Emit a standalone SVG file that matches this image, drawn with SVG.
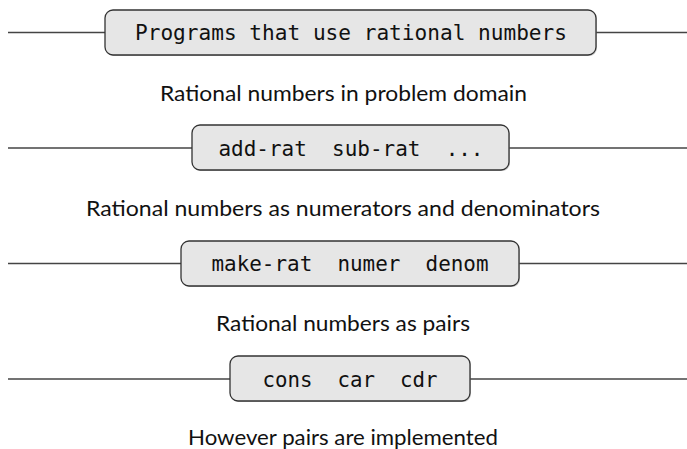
<svg xmlns="http://www.w3.org/2000/svg" width="687" height="449" viewBox="0 0 687 449">
<style>
.box{fill:#e6e6e6;stroke:#333;stroke-width:1.3}
.sh{fill:#999;opacity:0.5}
.code{font-family:"DejaVu Sans Mono","Liberation Mono",monospace;font-size:21px;fill:#111;text-anchor:middle;white-space:pre}
.lbl{font-family:"Lato","Liberation Sans",sans-serif;font-size:22px;fill:#111;text-anchor:middle}
.conn{stroke:#444;stroke-width:1.3;fill:none}
</style>
<rect width="687" height="449" fill="#fff"/>
<g id="connectors">
<line class="conn" x1="8" y1="32.5" x2="105" y2="32.5"/>
<line class="conn" x1="596" y1="32.5" x2="687" y2="32.5"/>
<line class="conn" x1="8" y1="148" x2="192" y2="148"/>
<line class="conn" x1="509" y1="148" x2="687" y2="148"/>
<line class="conn" x1="8" y1="263.5" x2="181" y2="263.5"/>
<line class="conn" x1="519" y1="263.5" x2="687" y2="263.5"/>
<line class="conn" x1="8" y1="379" x2="230" y2="379"/>
<line class="conn" x1="470" y1="379" x2="687" y2="379"/>
</g>
<g id="n1">
<rect class="sh" x="106" y="11" width="491" height="45" rx="8"/>
<rect class="box" x="105" y="10" width="491" height="45" rx="8"/>
<text class="code" x="351" y="40" textLength="432" lengthAdjust="spacingAndGlyphs" xml:space="preserve">Programs that use rational numbers</text>
</g>
<g id="l1"><text class="lbl" x="343.5" y="101" textLength="367" lengthAdjust="spacingAndGlyphs">Rational numbers in problem domain</text></g>
<g id="n2">
<rect class="sh" x="193" y="126" width="317" height="45" rx="8"/>
<rect class="box" x="192" y="125" width="317" height="45" rx="8"/>
<text class="code" x="351" y="155.5" textLength="265" lengthAdjust="spacingAndGlyphs" xml:space="preserve">add-rat  sub-rat  ...</text>
</g>
<g id="l2"><text class="lbl" x="343" y="216" textLength="514" lengthAdjust="spacingAndGlyphs">Rational numbers as numerators and denominators</text></g>
<g id="n3">
<rect class="sh" x="182" y="242" width="338" height="45" rx="8"/>
<rect class="box" x="181" y="241" width="338" height="45" rx="8"/>
<text class="code" x="350" y="271" textLength="277" lengthAdjust="spacingAndGlyphs" xml:space="preserve">make-rat  numer  denom</text>
</g>
<g id="l3"><text class="lbl" x="343" y="331" textLength="254" lengthAdjust="spacingAndGlyphs">Rational numbers as pairs</text></g>
<g id="n4">
<rect class="sh" x="231" y="357" width="240" height="45" rx="8"/>
<rect class="box" x="230" y="356" width="240" height="45" rx="8"/>
<text class="code" x="350" y="386.5" textLength="175" lengthAdjust="spacingAndGlyphs" xml:space="preserve">cons  car  cdr</text>
</g>
<g id="l4"><text class="lbl" x="343" y="445" textLength="310" lengthAdjust="spacingAndGlyphs">However pairs are implemented</text></g>
</svg>
